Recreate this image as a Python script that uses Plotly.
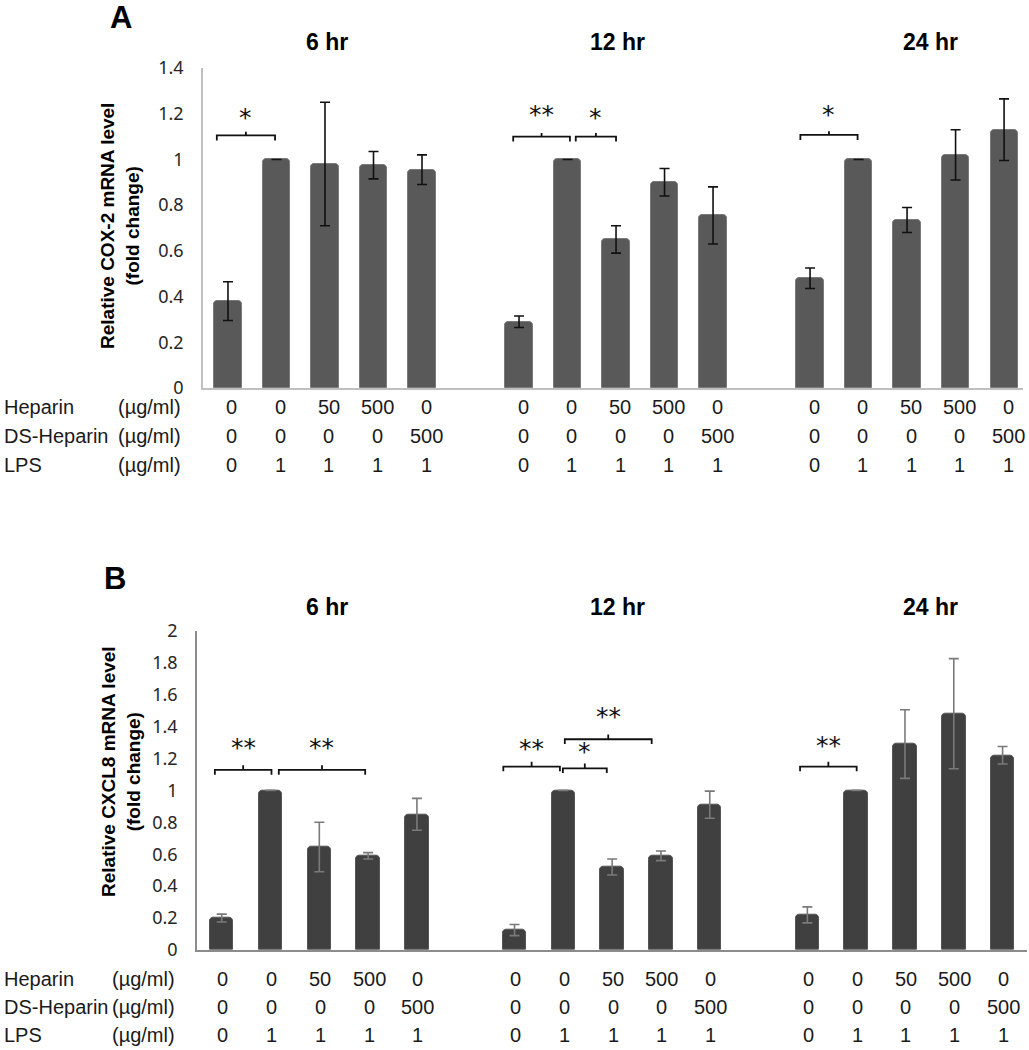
import plotly.graph_objects as go

# ---------------- data ----------------
time_points = ["6 hr", "12 hr", "24 hr"]
heparin = ["0", "0", "50", "500", "0"]
ds_heparin = ["0", "0", "0", "0", "500"]
lps = ["0", "1", "1", "1", "1"]

cox2_6hr = [0.38, 1.00, 0.98, 0.975, 0.955]
cox2_6hr_err = [0.085, 0.0, 0.27, 0.06, 0.065]
cox2_12hr = [0.29, 1.00, 0.65, 0.90, 0.755]
cox2_12hr_err = [0.025, 0.0, 0.06, 0.06, 0.125]
cox2_24hr = [0.48, 1.00, 0.735, 1.02, 1.13]
cox2_24hr_err = [0.045, 0.0, 0.055, 0.11, 0.135]

cxcl8_6hr = [0.20, 1.00, 0.645, 0.59, 0.85]
cxcl8_6hr_err = [0.025, 0.0, 0.155, 0.02, 0.1]
cxcl8_12hr = [0.125, 1.00, 0.52, 0.59, 0.91]
cxcl8_12hr_err = [0.035, 0.0, 0.05, 0.03, 0.085]
cxcl8_24hr = [0.22, 1.00, 1.29, 1.48, 1.22]
cxcl8_24hr_err = [0.05, 0.0, 0.215, 0.345, 0.055]

# significance brackets: (start slot, end slot, bracket level, label level, label)
sig_A = [(-0.23, 0.97, 1.105, 1.183, "*"), (5.88, 7.05, 1.10, 1.195, "**"),
         (7.17, 8.0, 1.10, 1.183, "*"), (11.8, 12.98, 1.107, 1.195, "*")]
sig_B = [(-0.14, 1.02, 1.128, 1.27, "**"), (1.17, 2.94, 1.128, 1.27, "**"),
         (5.77, 6.93, 1.149, 1.265, "**"), (6.99, 7.89, 1.138, 1.245, "*"),
         (7.03, 8.81, 1.32, 1.465, "**"), (11.85, 13.01, 1.149, 1.28, "**")]

W, H = 1029, 1050
def px(x):
    return x / W
def py(y):
    return 1 - y / H

fig = go.Figure()

panels = [
    dict(xa="x", ya="y", vals=[cox2_6hr, cox2_12hr, cox2_24hr],
         errs=[cox2_6hr_err, cox2_12hr_err, cox2_24hr_err],
         color="#595959", line="#7a7a7a", ecolor="#111111", width=0.56),
    dict(xa="x2", ya="y2", vals=[cxcl8_6hr, cxcl8_12hr, cxcl8_24hr],
         errs=[cxcl8_6hr_err, cxcl8_12hr_err, cxcl8_24hr_err],
         color="#404040", line="#555555", ecolor="#7a7a7a", width=0.48),
]

for p in panels:
    xs, ys, es = [], [], []
    for g in range(3):
        for i in range(5):
            xs.append(g * 6 + i)
            ys.append(p["vals"][g][i])
            es.append(p["errs"][g][i])
    fig.add_trace(go.Bar(
        x=xs, y=ys, width=p["width"], xaxis=p["xa"], yaxis=p["ya"],
        marker=dict(color=p["color"], line=dict(color=p["line"], width=1),
                    cornerradius=4),
        error_y=dict(type="data", array=es, visible=True,
                     color=p["ecolor"], thickness=1.6, width=5),
        showlegend=False, hoverinfo="skip"))

shapes = []
annotations = []

def add_brackets(sig, xref, yref, drop, up):
    for x0, x1, y, ys, lab in sig:
        xm = (x0 + x1) / 2
        path = (f"M {x0},{y - drop} L {x0},{y} L {x1},{y} L {x1},{y - drop} "
                f"M {xm},{y} L {xm},{y + up}")
        shapes.append(dict(type="path", path=path, xref=xref, yref=yref,
                           line=dict(color="#111111", width=1.8)))
        annotations.append(dict(x=xm, y=ys, xref=xref, yref=yref,
                                text=lab, showarrow=False,
                                font=dict(family="DejaVu Sans", size=25, color="#111111"),
                                xanchor="center", yanchor="middle"))

add_brackets(sig_A, "x", "y", 0.022, 0.016)
add_brackets(sig_B, "x2", "y2", 0.03, 0.03)

# panel letters
for lab, x, y in [("A", 121, 18), ("B", 115, 578)]:
    annotations.append(dict(x=px(x), y=py(y), xref="paper", yref="paper", text=f"<b>{lab}</b>",
                            showarrow=False, xanchor="center", yanchor="middle",
                            font=dict(family="Liberation Sans", size=31, color="#000")))

# time point titles
for ytitle in (42, 607):
    for t, x in zip(time_points, (327, 617, 930)):
        annotations.append(dict(x=px(x), y=py(ytitle), xref="paper", yref="paper",
                                text=f"<b>{t}</b>", showarrow=False,
                                xanchor="center", yanchor="middle",
                                font=dict(family="Liberation Sans", size=23, color="#000")))

# y axis titles
for txt, x, y in [("Relative COX-2 mRNA level<br>(fold change)", 120, 226),
                  ("Relative CXCL8 mRNA level<br>(fold change)", 121, 772)]:
    annotations.append(dict(x=px(x), y=py(y), xref="paper", yref="paper",
                            text=f"<b>{txt}</b>", textangle=-90, showarrow=False,
                            xanchor="center", yanchor="middle",
                            font=dict(family="Liberation Sans", size=19, color="#000")))

# condition tables
tfont = dict(family="Liberation Sans", size=20, color="#1a1a1a")
rows = [("Heparin", heparin), ("DS-Heparin", ds_heparin), ("LPS", lps)]
for xref, rowys, unit_right, shift in [("x", (407, 436, 465), 183, 4),
                                        ("x2", (979, 1007, 1035), 177, 1)]:
    for (name, vals), ry in zip(rows, rowys):
        annotations.append(dict(x=px(2), y=py(ry), xref="paper", yref="paper", text=name,
                                showarrow=False, xanchor="left", yanchor="middle", font=tfont))
        annotations.append(dict(x=px(unit_right), y=py(ry), xref="paper", yref="paper",
                                text="(µg/ml)", showarrow=False, xanchor="right",
                                yanchor="middle", font=tfont))
        for g in range(3):
            for i, v in enumerate(vals):
                annotations.append(dict(x=g * 6 + i, y=py(ry), xref=xref, yref="paper",
                                        text=v, showarrow=False, xanchor="center",
                                        yanchor="middle", xshift=shift, font=tfont))

tickfont = dict(family="Noto Sans", size=18, color="#262626")
fig.update_layout(
    width=W, height=H, margin=dict(l=0, r=0, t=0, b=0, pad=0, autoexpand=False),
    paper_bgcolor="white", plot_bgcolor="white", bargap=0,
    shapes=shapes, annotations=annotations,
    xaxis=dict(domain=[px(203), px(1023)], range=[-0.515, 16.39], showticklabels=False,
               ticks="", showgrid=False, zeroline=False, showline=True, automargin=False,
               linecolor="#bfbfbf", linewidth=1.5, anchor="y"),
    yaxis=dict(domain=[py(388), py(68)], range=[0, 1.4], dtick=0.2, showgrid=False,
               zeroline=False, showline=True, linecolor="#bfbfbf", linewidth=1.5,
               automargin=False,
               ticks="", tickfont=tickfont, ticklabelstandoff=14, anchor="x"),
    xaxis2=dict(domain=[px(197), px(1027)], range=[-0.506, 16.5], showticklabels=False,
                ticks="", showgrid=False, zeroline=False, showline=True, automargin=False,
                linecolor="#8c8c8c", linewidth=1.5, anchor="y2"),
    yaxis2=dict(domain=[py(950), py(630.7)], range=[0, 2], dtick=0.2, showgrid=False,
                zeroline=False, showline=True, linecolor="#8c8c8c", linewidth=1.5,
                automargin=False,
                ticks="", tickfont=tickfont, ticklabelstandoff=14, anchor="x2"),
)

fig.write_html("out.html", config={"displayModeBar": False},
               post_script="document.body.style.margin='0px';")
